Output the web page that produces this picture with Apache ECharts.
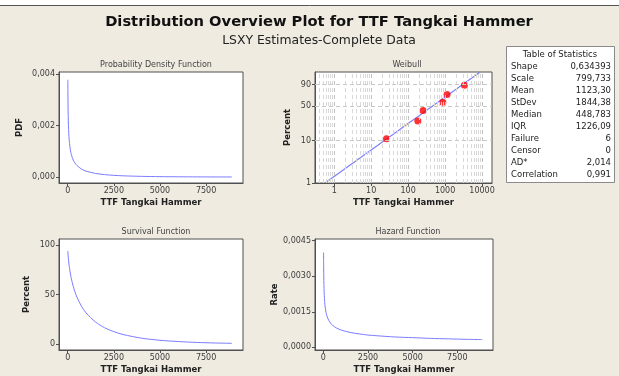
<!DOCTYPE html>
<html>
<head>
<meta charset="utf-8">
<script src="https://cdn.jsdelivr.net/npm/echarts@6/dist/echarts.min.js"></script>
<style>
  html, body { margin: 0; padding: 0; background: #efebe1; }
  #chart { width: 619px; height: 376px; }
</style>
</head>
<body>
<div id="chart"></div>
<script>
// Time grid (hours) at which the fitted Weibull curves are drawn
const curveTimes = [9.6, 15, 25, 35, 50, 70, 100, 150, 200, 300, 400, 500, 750, 1000,
                    1500, 2000, 2500, 3000, 4000, 5000, 6000, 7000, 8000, 8895];
// Probability density along curveTimes
const pdfValues = [0.00377, 0.00314, 0.00252, 0.00217, 0.00184, 0.00156, 0.00130, 0.00104,
                   0.00087, 0.00066, 0.00054, 0.00045, 0.00031, 0.00023, 0.000142, 0.000095,
                   0.000067, 0.000048, 0.0000275, 0.0000166, 0.0000105, 0.0000069, 0.0000046, 0.0000033];
// Survival percent along curveTimes
const survivalValues = [94.0, 92.3, 89.5, 87.2, 84.2, 80.8, 76.5, 70.8, 66.0, 58.5, 52.5, 47.6,
                        38.3, 31.6, 22.6, 16.7, 12.8, 9.9, 6.2, 4.1, 2.8, 1.9, 1.35, 1.0];
// Hazard rate along curveTimes
const hazardValues = [0.00400, 0.00340, 0.00282, 0.00249, 0.00219, 0.00193, 0.00170, 0.00146,
                      0.00132, 0.00114, 0.00102, 0.00094, 0.00081, 0.00073, 0.00063, 0.00057,
                      0.00052, 0.00049, 0.00044, 0.00041, 0.00038, 0.00036, 0.00034, 0.00033];

// Failure times and their median-rank plotting positions (percent)
const failureTimes = [26, 183, 254, 867, 1132, 3340];
const failurePercent = [10.9, 26.6, 42.2, 57.8, 73.4, 89.1];
// Fitted Weibull line end points (1st and 99th percentile)
const fitTimes = [0.565, 8895];
const fitPercent = [1, 99];

// Tick labels
const linearTimeTicks = [0, 2500, 5000, 7500];
const pdfTicks = [0, 0.002, 0.004];
const survivalTicks = [0, 50, 100];
const hazardTicks = [0, 0.0015, 0.003, 0.0045];
const weibullTimeTicks = [1, 10, 100, 1000, 10000];
const weibullPercentTicks = [1, 10, 50, 90];
const weibullPercentGrid = [10, 50, 90];

// Table of statistics
const statNames = ['Shape', 'Scale', 'Mean', 'StDev', 'Median', 'IQR', 'Failure', 'Censor', 'AD*', 'Correlation'];
const statValues = ['0,634393', '799,733', '1123,30', '1844,38', '448,783', '1226,09', '6', '0', '2,014', '0,991'];

// ---- helpers ----
const FONT = 'DejaVu Sans';
const LINE_COLOR = '#7c7cff';
const AXIS_COLOR = '#505050';
const LABEL_COLOR = '#3c3c3c';

const comma = (s) => String(s).replace('.', ',');
const weibullY = (pct) => Math.log(-Math.log(1 - pct / 100));
const log10 = (v) => Math.log10(v);

function zip(xs, ys, fx, fy) {
  fx = fx || ((v) => v); fy = fy || ((v) => v);
  return xs.map((x, i) => [fx(x), fy(ys[i])]);
}

const grids = [
  { left: 59, top: 72, width: 184, height: 111 },   // PDF
  { left: 315, top: 72, width: 177, height: 111 },  // Weibull
  { left: 59, top: 239, width: 184, height: 111 },  // Survival
  { left: 315, top: 239, width: 178, height: 111 }  // Hazard
].map(g => Object.assign(g, { show: true, backgroundColor: '#ffffff', borderColor: AXIS_COLOR, borderWidth: 1 }));

function baseAxis(extra) {
  return Object.assign({
    type: 'value',
    axisLine: { show: true, onZero: false, lineStyle: { color: AXIS_COLOR, width: 1 } },
    axisTick: { show: true, inside: false, length: 3, lineStyle: { color: AXIS_COLOR } },
    splitLine: { show: false },
    axisLabel: { color: LABEL_COLOR, fontFamily: FONT, fontSize: 8, margin: 4 },
    nameTextStyle: { color: '#222', fontFamily: FONT, fontSize: 8.5, fontWeight: 'bold' },
    nameLocation: 'middle'
  }, extra);
}

function timeXAxis(gridIndex) {
  return baseAxis({
    gridIndex, min: -470, max: 9500,
    name: 'TTF Tangkai Hammer', nameGap: 15,
    axisTick: { show: true, length: 3, lineStyle: { color: AXIS_COLOR }, customValues: linearTimeTicks },
    axisLabel: { color: LABEL_COLOR, fontFamily: FONT, fontSize: 8, margin: 4, customValues: linearTimeTicks,
                 formatter: (v) => String(v) }
  });
}

function valueYAxis(gridIndex, min, max, ticks, decimals, name, gap) {
  return baseAxis({
    gridIndex, min, max, name, nameGap: gap, nameRotate: 90,
    axisTick: { show: true, length: 3, lineStyle: { color: AXIS_COLOR }, customValues: ticks },
    axisLabel: { color: LABEL_COLOR, fontFamily: FONT, fontSize: 8, margin: 4, customValues: ticks,
                 formatter: (v) => comma(v.toFixed(decimals)) }
  });
}

// Weibull probability-paper grid lines
const vGrid = [];
for (let d = -1; d <= 4; d++) {
  for (let m = 1; m <= 9; m++) {
    const v = log10(m * Math.pow(10, d));
    if (v > -0.52 && v < 4.27) vGrid.push({ xAxis: v, lineStyle: { color: m === 1 ? '#c2c2c2' : '#d8d8d8' } });
  }
}
const hGrid = weibullPercentGrid.map(p => ({ yAxis: weibullY(p) }));

const option = {
  backgroundColor: '#efebe1',
  animation: false,
  title: [
    { text: 'Distribution Overview Plot for TTF Tangkai Hammer', left: 314, top: 10, textAlign: 'center',
      textStyle: { fontFamily: FONT, fontSize: 14.7, fontWeight: 'bold', color: '#111' } },
    { text: 'LSXY Estimates-Complete Data', left: 314, top: 30, textAlign: 'center',
      textStyle: { fontFamily: FONT, fontSize: 12.4, fontWeight: 'normal', color: '#222' } },
    { text: 'Probability Density Function', left: 151, top: 56, textAlign: 'center',
      textStyle: { fontFamily: FONT, fontSize: 8, fontWeight: 'normal', color: '#444' } },
    { text: 'Weibull', left: 402, top: 56, textAlign: 'center',
      textStyle: { fontFamily: FONT, fontSize: 8, fontWeight: 'normal', color: '#444' } },
    { text: 'Survival Function', left: 151, top: 223, textAlign: 'center',
      textStyle: { fontFamily: FONT, fontSize: 8, fontWeight: 'normal', color: '#444' } },
    { text: 'Hazard Function', left: 403, top: 223, textAlign: 'center',
      textStyle: { fontFamily: FONT, fontSize: 8, fontWeight: 'normal', color: '#444' } }
  ],
  grid: grids,
  xAxis: [
    timeXAxis(0),
    baseAxis({
      gridIndex: 1, min: -0.52, max: 4.27,
      name: 'TTF Tangkai Hammer', nameGap: 15,
      axisTick: { show: true, length: 3, lineStyle: { color: AXIS_COLOR }, customValues: weibullTimeTicks.map(log10) },
      axisLabel: { color: LABEL_COLOR, fontFamily: FONT, fontSize: 8, margin: 4,
                   customValues: weibullTimeTicks.map(log10),
                   formatter: (v) => String(Math.round(Math.pow(10, v))) }
    }),
    timeXAxis(2),
    timeXAxis(3)
  ],
  yAxis: [
    valueYAxis(0, -0.00023, 0.00407, pdfTicks, 3, 'PDF', 35),
    baseAxis({
      gridIndex: 1, min: weibullY(1), max: weibullY(99),
      name: 'Percent', nameGap: 23, nameRotate: 90,
      axisTick: { show: true, length: 3, lineStyle: { color: AXIS_COLOR }, customValues: weibullPercentTicks.map(weibullY) },
      axisLabel: { color: LABEL_COLOR, fontFamily: FONT, fontSize: 8, margin: 4,
                   customValues: weibullPercentTicks.map(weibullY),
                   formatter: (v) => String(Math.round(100 * (1 - Math.exp(-Math.exp(v))))) }
    }),
    valueYAxis(2, -5.7, 106, survivalTicks, 0, 'Percent', 28),
    valueYAxis(3, -0.00011, 0.00457, hazardTicks, 4, 'Rate', 36)
  ],
  series: [
    { type: 'line', xAxisIndex: 0, yAxisIndex: 0, data: zip(curveTimes, pdfValues), smooth: 0.3,
      showSymbol: false, lineStyle: { color: LINE_COLOR, width: 1 } },
    { type: 'line', xAxisIndex: 1, yAxisIndex: 1, data: zip(fitTimes, fitPercent, log10, weibullY),
      showSymbol: false, clip: true, lineStyle: { color: LINE_COLOR, width: 1.1 },
      markLine: { silent: true, symbol: 'none', label: { show: false },
                  lineStyle: { type: [4, 3], width: 1, color: '#c8c8c8' },
                  data: vGrid.concat(hGrid) },
      z: 3 },
    { type: 'scatter', xAxisIndex: 1, yAxisIndex: 1, data: zip(failureTimes, failurePercent, log10, weibullY),
      symbol: 'circle', symbolSize: 7, itemStyle: { color: '#ff0000' }, z: 4 },
    { type: 'line', xAxisIndex: 2, yAxisIndex: 2, data: zip(curveTimes, survivalValues), smooth: 0.3,
      showSymbol: false, lineStyle: { color: LINE_COLOR, width: 1 } },
    { type: 'line', xAxisIndex: 3, yAxisIndex: 3, data: zip(curveTimes, hazardValues), smooth: 0.3,
      showSymbol: false, lineStyle: { color: LINE_COLOR, width: 1 } }
  ],
  graphic: [
    { type: 'rect', shape: { x: 0, y: 0, width: 619, height: 5 }, style: { fill: '#ffffff' }, silent: true },
    { type: 'line', shape: { x1: 0, y1: 5.5, x2: 619, y2: 5.5 }, style: { stroke: '#555', lineWidth: 1 }, silent: true },
    { type: 'rect', shape: { x: 506.5, y: 46.5, width: 108, height: 136 },
      style: { fill: '#ffffff', stroke: '#8a8a8a', lineWidth: 1 }, silent: true },
    { type: 'text', x: 560, y: 55, style: { text: 'Table of Statistics', fontFamily: FONT, fontSize: 8.5,
      fill: '#222', align: 'center', verticalAlign: 'middle' }, silent: true }
  ].concat(statNames.map((n, i) => ({
    type: 'text', x: 511, y: 67 + i * 12,
    style: { text: n, fontFamily: FONT, fontSize: 8.5, fill: '#222', align: 'left', verticalAlign: 'middle' }, silent: true
  }))).concat(statValues.map((v, i) => ({
    type: 'text', x: 611, y: 67 + i * 12,
    style: { text: v, fontFamily: FONT, fontSize: 8.5, fill: '#222', align: 'right', verticalAlign: 'middle' }, silent: true
  })))
};

const chart = echarts.init(document.getElementById('chart'), null, { renderer: 'canvas' });
chart.setOption(option);
</script>
</body>
</html>
